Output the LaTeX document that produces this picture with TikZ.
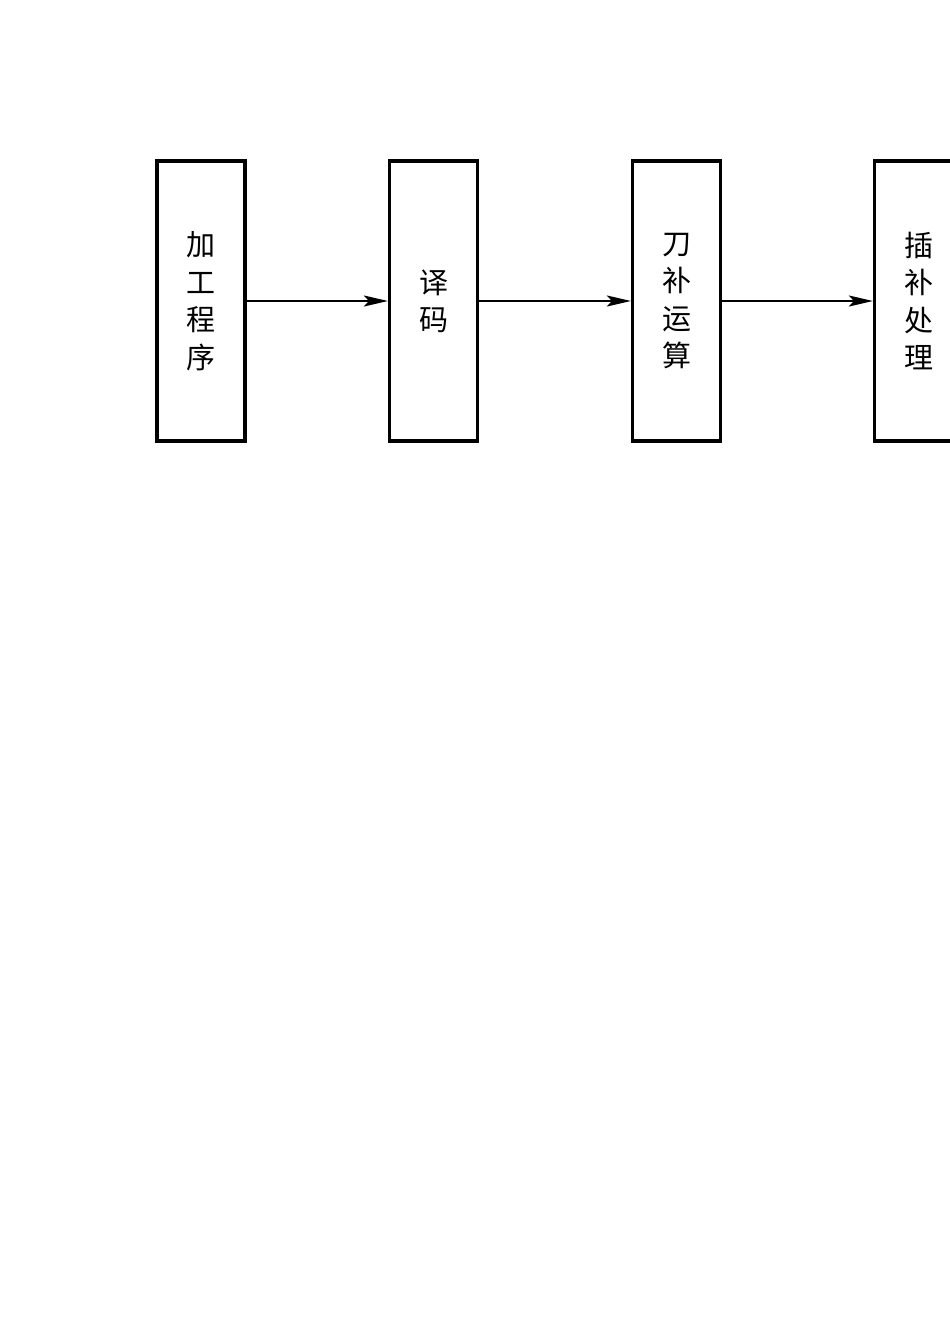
\documentclass[tikz,border=0pt]{standalone}
\usepackage{fontspec}
\newfontfamily\cjk{Noto Sans CJK SC}
\usetikzlibrary{arrows.meta}
\begin{document}
\begin{tikzpicture}[x=1pt,y=-1pt,
  blk/.style={draw,line width=3.2pt,minimum width=88pt,minimum height=280pt,inner sep=0pt,
    align=center,font=\cjk\fontsize{29}{37.5}\selectfont},
  arr/.style={line width=2.2pt,-{Stealth[length=24pt,width=11pt,inset=5pt]}}]
\useasboundingbox (0,0) rectangle (950,1342);
\node[blk] (a) at (201,301) {加\\工\\程\\序};
\node[blk] (b) at (433.5,301) {译\\码};
\node[blk] (c) at (676.5,301) {刀\\补\\运\\算};
\node[blk] (d) at (918.5,301) {插\\补\\处\\理};
\draw[arr] (a) -- (b);
\draw[arr] (b) -- (c);
\draw[arr] (c) -- (d);
\end{tikzpicture}
\end{document}
